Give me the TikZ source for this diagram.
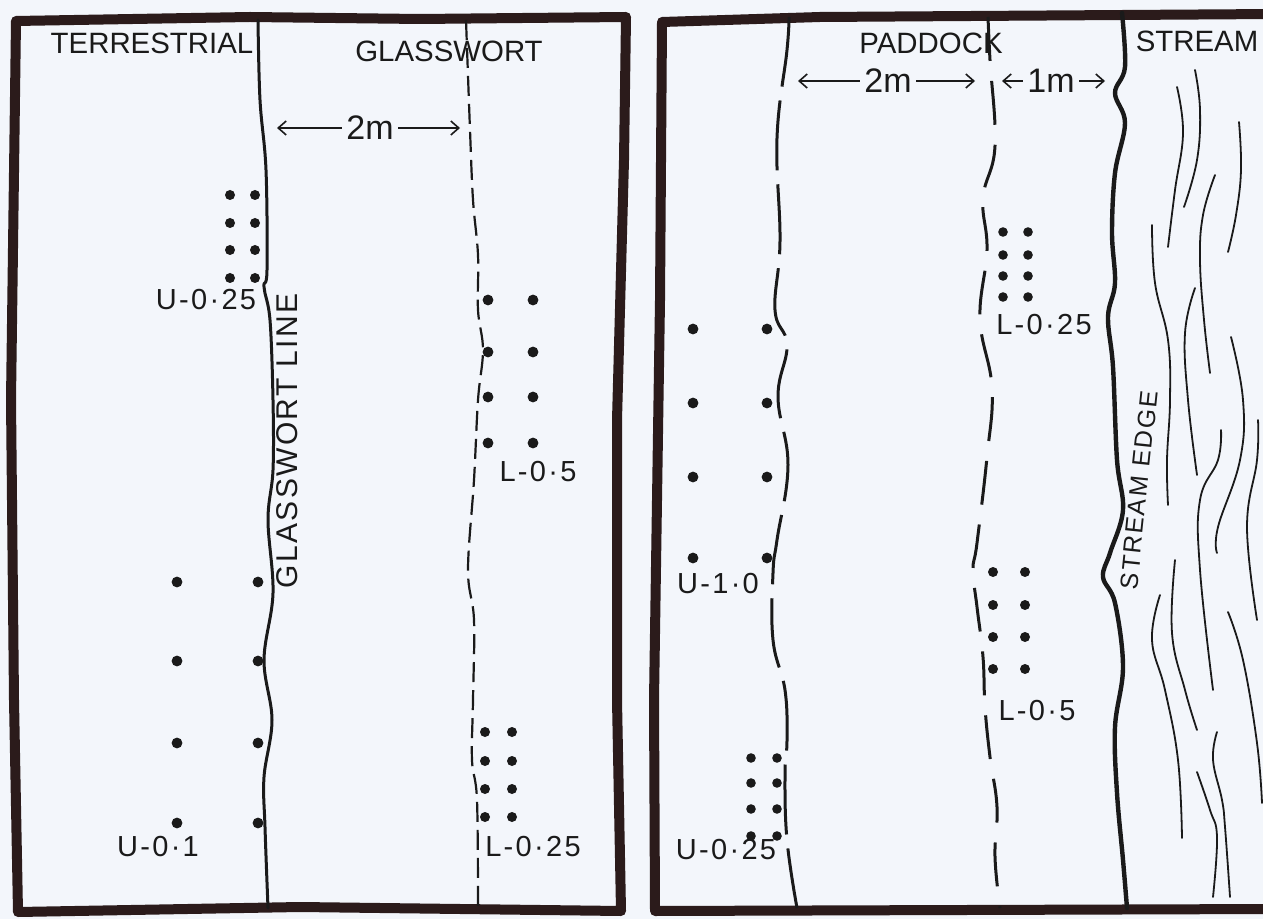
\documentclass[tikz,border=0pt]{standalone}
\usepackage{fontspec}
\setmainfont{Liberation Sans}
\newfontfamily\handfont[LetterSpace=8]{Liberation Sans}
\usetikzlibrary{arrows.meta,calc,positioning}
\definecolor{PaperBlue}{HTML}{F3F6FB}
\definecolor{InkBrown}{HTML}{2B1B1B}
\definecolor{InkBlack}{HTML}{1A1A1A}
\tikzset{
  qframe/.style={draw=InkBrown, line width=5pt, line join=round, line cap=round},
  qsolid/.style={draw=InkBlack, line width=1.5pt, line cap=round},
  qshortdash/.style={draw=InkBlack, line width=1.1pt, dash pattern=on 10pt off 4pt},
  qlongdash/.style={draw=InkBlack, line width=1.5pt, dash pattern=on 35pt off 7pt},
  qmiddash/.style={draw=InkBlack, line width=1.5pt, dash pattern=on 22pt off 10pt},
  qedge/.style={draw=InkBlack, line width=2.2pt, line cap=round},
  qripple/.style={draw=InkBlack, line width=0.9pt, line cap=round},
  qarrow/.style={-{Straight Barb[length=4pt,width=7pt]}, draw=InkBlack, line width=0.8pt},
  qzone/.style={font=\fontsize{14.7}{16}\selectfont, text=InkBlack, inner sep=0pt},
  qlabel/.style={font=\handfont\fontsize{14.5}{16}\selectfont, text=InkBlack, inner sep=0pt},
  qwidth/.style={font=\fontsize{17}{18}\selectfont, text=InkBlack, inner sep=2pt},
  qdot/.style={fill=InkBlack}
}
\begin{document}
\begin{tikzpicture}[x=0.5pt,y=-0.5pt]
  \useasboundingbox (0,0) rectangle (1263,919);
  \clip (0,0) rectangle (1263,919);
  \fill[PaperBlue] (0,0) rectangle (1263,919);

  % the two quadrat sheets
  \draw[qframe] (16,21) -- (250,17) -- (420,19) -- (626,17) -- (624,160) -- (617,420)
    -- (617,700) -- (621,911) -- (300,907) -- (18,912) -- (14,700) -- (11,400) -- cycle;
  \draw[qframe] (1275,14) -- (820,17) -- (662,22) -- (660,300) -- (654,700)
    -- (655,911) -- (1275,909);

  % left sheet: glasswort line and lower boundary
  \draw[qsolid] plot[smooth, tension=0.6] coordinates {(258,20) (260,100) (266,170) (267,270)
    (264,287) (270,320) (273,400) (273,470) (268,520) (273,593) (264,660) (272,720)
    (264,777) (265,827) (268,908)};
  \draw[qshortdash] plot[smooth, tension=0.6] coordinates {(466,20) (470,130) (473,200)
    (478,255) (478,310) (483,350) (478,400) (474,480) (468,570) (474,620) (473,700)
    (472,760) (477,800) (478,908)};

  % right sheet: paddock boundaries and stream edge
  \draw[qlongdash] plot[smooth, tension=0.7] coordinates {(789,17) (787,50) (777,138)
    (780,241) (775,310) (787,345) (778,397) (788,465) (777,540) (773,573) (773,640)
    (785,690) (787,740) (785,773) (787,840) (797,908)};
  \draw[qmiddash] plot[smooth, tension=0.7] coordinates {(988,17) (990,60) (995,146)
    (983,198) (987,250) (980,319) (992,388) (987,457) (977,543) (973,570) (977,607)
    (983,657) (985,707) (990,757) (997,807) (995,857) (1000,908)};
  \draw[qedge] plot[smooth, tension=0.6] coordinates {(1122,13) (1125,67) (1115,93)
    (1125,123) (1115,173) (1112,233) (1115,283) (1108,317) (1113,367) (1117,460)
    (1123,510) (1110,553) (1103,577) (1115,603) (1123,667) (1115,727) (1117,793)
    (1123,860) (1127,908)};

  % water
  \foreach \ripple in {
      {(1177,87) (1183,133) (1175,190) (1168,247)},
      {(1195,70) (1200,110) (1197,160) (1184,207)},
      {(1239,122) (1241,170) (1236,215) (1228,252)},
      {(1215,175) (1203,215) (1200,260) (1204,320) (1210,373)},
      {(1152,225) (1155,283) (1168,340) (1170,400) (1167,460) (1168,505)},
      {(1195,288) (1185,333) (1188,400) (1197,475)},
      {(1231,337) (1243,400) (1240,460) (1218,527) (1217,553)},
      {(1221,430) (1218,460) (1200,500) (1200,570) (1213,690)},
      {(1258,420) (1257,460) (1247,527) (1257,620)},
      {(1175,560) (1172,633) (1185,690) (1197,730)},
      {(1160,595) (1152,640) (1165,690) (1178,760) (1182,838)},
      {(1228,612) (1243,660) (1257,743) (1262,803)},
      {(1217,732) (1213,760) (1222,800) (1225,827) (1230,897)},
      {(1197,772) (1210,810) (1217,837) (1213,897)}}
    \draw[qripple] plot[smooth, tension=0.7] coordinates \ripple;

  % zone names
  \node[qzone] (terr) at (152,43) {TERRESTRIAL};
  \node[qzone] (glass) at (449,51) {GLASSWORT};
  \node[qzone] (padd) at (931,43) {PADDOCK};
  \node[qzone] (strm) at (1197,41) {STREAM};
  \node[qlabel, font=\handfont\fontsize{15}{16}\selectfont, rotate=90] (gline) at (287,441) {GLASSWORT LINE};
  \node[qlabel, font=\handfont\fontsize{12.5}{14}\selectfont, rotate=84] (sedge) at (1139,490) {STREAM EDGE};

  % widths between boundaries
  \node[qwidth] (wleft) at (370,128) {2m};
  \coordinate (wleftA) at (277,128);
  \coordinate (wleftB) at (460,128);
  \draw[qarrow] (wleft) -- (wleftA);
  \draw[qarrow] (wleft) -- (wleftB);
  \node[qwidth] (wpad) at (888,81) {2m};
  \coordinate (wpadA) at (798,81);
  \coordinate (wpadB) at (975,81);
  \draw[qarrow] (wpad) -- (wpadA);
  \draw[qarrow] (wpad) -- (wpadB);
  \node[qwidth] (wstr) at (1051,81) {1m};
  \coordinate (wstrA) at (1002,81);
  \coordinate (wstrB) at (1105,81);
  \draw[qarrow] (wstr) -- (wstrA);
  \draw[qarrow] (wstr) -- (wstrB);

  % quadrat points, left sheet
  \foreach \cx in {230,255} \foreach \cy in {195,223,250,278} \fill[qdot] (\cx,\cy) circle (2.5pt);
  \foreach \cx in {488,533} \foreach \cy in {300,352,397,443} \fill[qdot] (\cx,\cy) circle (2.7pt);
  \foreach \cx in {177,258} \foreach \cy in {582,661,743,823} \fill[qdot] (\cx,\cy) circle (2.7pt);
  \foreach \cx in {485,512} \foreach \cy in {732,761,789,817} \fill[qdot] (\cx,\cy) circle (2.5pt);
  % quadrat points, right sheet
  \foreach \cx in {1003,1028} \foreach \cy in {232,255,276,297} \fill[qdot] (\cx,\cy) circle (2.4pt);
  \foreach \cx in {693,767} \foreach \cy in {329,403,477,558} \fill[qdot] (\cx,\cy) circle (2.7pt);
  \foreach \cx in {993,1025} \foreach \cy in {572,605,637,669} \fill[qdot] (\cx,\cy) circle (2.5pt);
  \foreach \cx in {751,777} \foreach \cy in {758,783,809,836} \fill[qdot] (\cx,\cy) circle (2.4pt);

  % quadrat names
  \node[qlabel] (uq1) at (206,300) {U-0·25};
  \node[qlabel] (lq1) at (538,472) {L-0·5};
  \node[qlabel] (uq2) at (158,847) {U-0·1};
  \node[qlabel] (lq2) at (533,847) {L-0·25};
  \node[qlabel] (lq3) at (1044,325) {L-0·25};
  \node[qlabel] (uq3) at (718,584) {U-1·0};
  \node[qlabel] (lq4) at (1037,711) {L-0·5};
  \node[qlabel] (uq4) at (726,850) {U-0·25};
\end{tikzpicture}
\end{document}
